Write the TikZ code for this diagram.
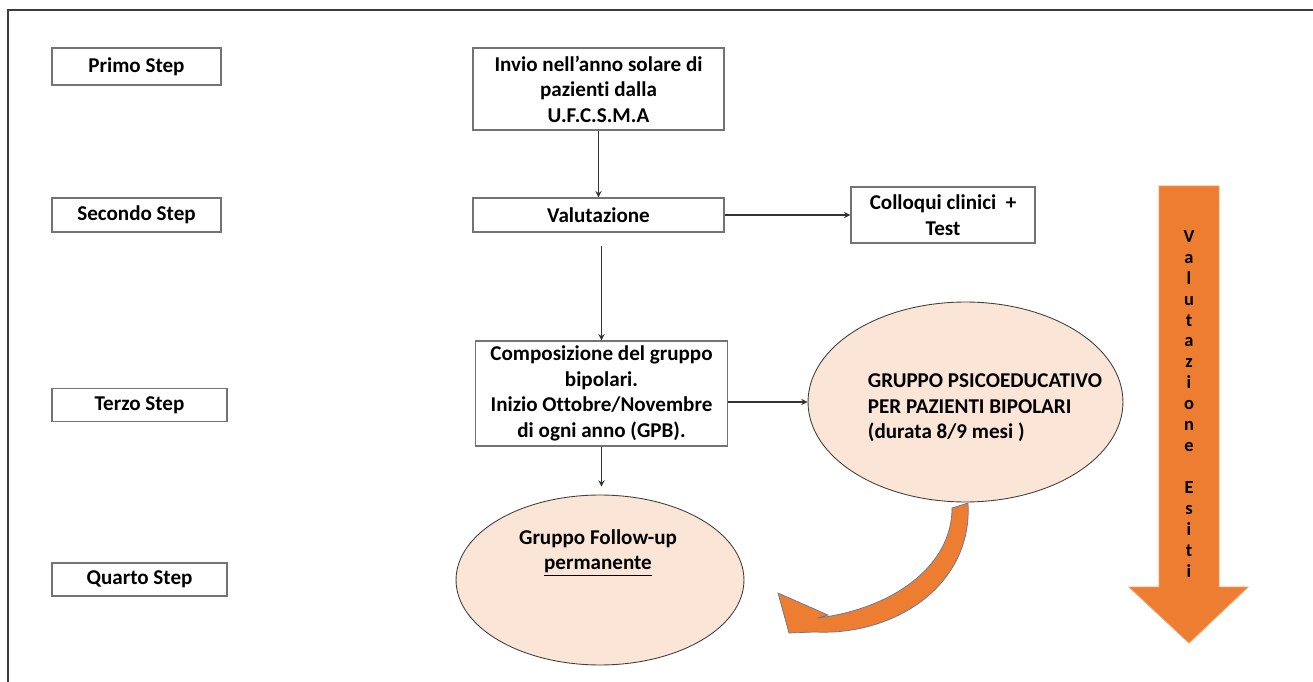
\documentclass[tikz,border=0pt]{standalone}
\usepackage{fontspec}
\setmainfont{Carlito}[Ligatures=NoCommon]
\usepackage{tikz}
\usetikzlibrary{shapes.geometric,positioning}

\definecolor{orangeacc}{RGB}{237,125,49}
\definecolor{peach}{RGB}{251,229,214}
\definecolor{framegray}{RGB}{60,60,60}
\definecolor{arrowedge}{RGB}{95,120,155}

\begin{document}
\begin{tikzpicture}[x=0.02cm, y=-0.02cm, font=\bfseries\fontsize{12}{14.5}\selectfont]
    % Styles
    \tikzstyle{stepbox} = [rectangle, draw=black!55, line width=0.8pt, minimum width=3.38cm, minimum height=0.7cm, align=center, inner sep=0pt]
    \tikzstyle{box} = [rectangle, draw=black!55, line width=0.8pt, minimum width=5.02cm, align=center, inner sep=0pt]
    \tikzstyle{bubble} = [ellipse, draw=black!75, line width=0.5pt, fill=peach, inner sep=0pt]
    \tikzstyle{arrow} = [line width=0.6pt, draw=black!80, ->, >=stealth]
    \tikzstyle{bigarrow} = [fill=orangeacc, draw=orangeacc!75!white, line width=0.5pt]

    \useasboundingbox (0,0) rectangle (1313,682);

    % Frame
    \draw[framegray, line width=1.1pt] (8,682) -- (8,10) -- (1313,10);

    % Steps
    \node[stepbox, minimum height=0.74cm] (primo) at (136.5,66.5) {Primo Step};
    \node[stepbox, minimum height=0.68cm] (secondo) at (136.5,215) {Secondo Step};
    \node[stepbox, minimum width=3.5cm, minimum height=0.66cm] (terzo) at (139.5,405) {Terzo Step};
    \node[stepbox, minimum width=3.5cm, minimum height=0.66cm] (quarto) at (139.5,579.5) {Quarto Step};

    % Nodes
    \node[box, minimum height=1.64cm] (invio) at (598.5,89) {Invio nell’anno solare di\\pazienti dalla\\U.F.C.S.M.A};
    \node[box, minimum height=0.68cm] (valut) at (598.5,215) {Valutazione};
    \node[box, minimum width=3.68cm, minimum height=1.12cm] (colloqui) at (943,215) {Colloqui clinici~~+\\Test};
    \node[box, minimum width=5.04cm, minimum height=2.1cm] (compos) at (601.5,393.5) {Composizione del gruppo\\bipolari.\\Inizio Ottobre/Novembre\\di ogni anno (GPB).};

    \node[bubble, minimum width=6.3cm, minimum height=4cm] (psico) at (965.5,402) {};
    \node[align=left] (psicotxt) at (985,408) {GRUPPO PSICOEDUCATIVO\\PER PAZIENTI BIPOLARI\\(durata 8/9 mesi )};

    \node[bubble, minimum width=5.76cm, minimum height=3.4cm] (follow) at (600,580) {};
    \node[align=center] (followtxt) at (598,553) {Gruppo Follow-up\\\underline{permanente}};

    % Arrows
    \draw[arrow] (invio) -- (valut);
    \draw[arrow] (valut) -- (colloqui);
    \draw[arrow, shorten <=0.26cm] (valut.south -| compos.north) -- (compos.north);
    \draw[arrow] (compos.east |- psico.west) -- (psico.west);
    \draw[arrow, shorten >=0.16cm] (compos.south) -- (compos.south |- follow.north);

    % Curved orange arrow back to the follow-up group
    \fill[orangeacc, draw=arrowedge, line width=0.4pt]
        (968,503) .. controls (973,585) and (895,636) .. (815,632)
        -- (789,633) -- (778,593) -- (828,615) -- (818,618)
        .. controls (895,608) and (952,565) .. (952,508) -- cycle;

    % Outcome evaluation arrow
    \draw[bigarrow] (1159,186) -- (1219,186) -- (1219,587) -- (1248,587)
        -- (1189,643) -- (1129,587) -- (1159,587) -- cycle;
    \node[font=\bfseries\fontsize{10.5}{11.95}\selectfont, align=center] (esiti) at (1189,404)
        {V\\a\\l\\u\\t\\a\\z\\i\\o\\n\\e\\~\\E\\s\\i\\t\\i};

\end{tikzpicture}
\end{document}
